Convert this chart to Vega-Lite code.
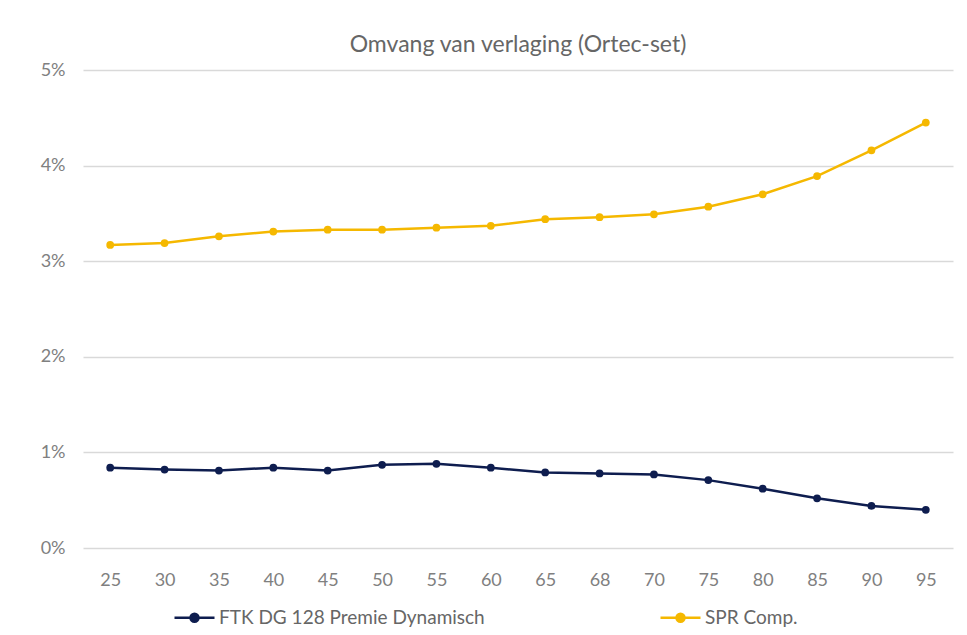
{
  "$schema": "https://vega.github.io/schema/vega-lite/v6.json",
  "width": 870,
  "height": 478,
  "autosize": {"type": "none"},
  "padding": {"left": 83, "top": 70, "right": 14, "bottom": 87},
  "background": "white",
  "title": {
    "text": "Omvang van verlaging (Ortec-set)",
    "font": "Lato",
    "fontSize": 23,
    "fontWeight": "normal",
    "color": "#666666",
    "offset": 4,
    "anchor": "middle"
  },
  "config": {
    "view": {"stroke": null},
    "font": "Lato"
  },
  "data": {
    "values": [
      {"age": 25, "series": "FTK DG 128 Premie Dynamisch", "value": 0.0084},
      {"age": 30, "series": "FTK DG 128 Premie Dynamisch", "value": 0.0082},
      {"age": 35, "series": "FTK DG 128 Premie Dynamisch", "value": 0.0081},
      {"age": 40, "series": "FTK DG 128 Premie Dynamisch", "value": 0.0084},
      {"age": 45, "series": "FTK DG 128 Premie Dynamisch", "value": 0.0081},
      {"age": 50, "series": "FTK DG 128 Premie Dynamisch", "value": 0.0087},
      {"age": 55, "series": "FTK DG 128 Premie Dynamisch", "value": 0.0088},
      {"age": 60, "series": "FTK DG 128 Premie Dynamisch", "value": 0.0084},
      {"age": 65, "series": "FTK DG 128 Premie Dynamisch", "value": 0.0079},
      {"age": 68, "series": "FTK DG 128 Premie Dynamisch", "value": 0.0078},
      {"age": 70, "series": "FTK DG 128 Premie Dynamisch", "value": 0.0077},
      {"age": 75, "series": "FTK DG 128 Premie Dynamisch", "value": 0.0071},
      {"age": 80, "series": "FTK DG 128 Premie Dynamisch", "value": 0.0062},
      {"age": 85, "series": "FTK DG 128 Premie Dynamisch", "value": 0.0052},
      {"age": 90, "series": "FTK DG 128 Premie Dynamisch", "value": 0.0044},
      {"age": 95, "series": "FTK DG 128 Premie Dynamisch", "value": 0.0040},
      {"age": 25, "series": "SPR Comp.", "value": 0.0317},
      {"age": 30, "series": "SPR Comp.", "value": 0.0319},
      {"age": 35, "series": "SPR Comp.", "value": 0.0326},
      {"age": 40, "series": "SPR Comp.", "value": 0.0331},
      {"age": 45, "series": "SPR Comp.", "value": 0.0333},
      {"age": 50, "series": "SPR Comp.", "value": 0.0333},
      {"age": 55, "series": "SPR Comp.", "value": 0.0335},
      {"age": 60, "series": "SPR Comp.", "value": 0.0337},
      {"age": 65, "series": "SPR Comp.", "value": 0.0344},
      {"age": 68, "series": "SPR Comp.", "value": 0.0346},
      {"age": 70, "series": "SPR Comp.", "value": 0.0349},
      {"age": 75, "series": "SPR Comp.", "value": 0.0357},
      {"age": 80, "series": "SPR Comp.", "value": 0.0370},
      {"age": 85, "series": "SPR Comp.", "value": 0.0389},
      {"age": 90, "series": "SPR Comp.", "value": 0.0416},
      {"age": 95, "series": "SPR Comp.", "value": 0.0445}
    ]
  },
  "encoding": {
    "x": {
      "field": "age",
      "type": "ordinal",
      "scale": {"paddingOuter": 0.5},
      "axis": {
        "title": null,
        "labelAngle": 0,
        "labelFont": "Lato",
        "labelFontSize": 18,
        "labelColor": "#808080",
        "labelPadding": 23,
        "ticks": false,
        "domain": false,
        "grid": false
      }
    },
    "y": {
      "field": "value",
      "type": "quantitative",
      "scale": {"domain": [0, 0.05], "nice": false},
      "axis": {
        "title": null,
        "format": ".0%",
        "values": [0, 0.01, 0.02, 0.03, 0.04, 0.05],
        "labelFont": "Lato",
        "labelFontSize": 18,
        "labelColor": "#808080",
        "labelPadding": 18,
        "ticks": false,
        "domain": false,
        "grid": true,
        "gridColor": "#d9d9d9",
        "gridWidth": 1.3
      }
    },
    "color": {
      "field": "series",
      "type": "nominal",
      "scale": {
        "domain": ["FTK DG 128 Premie Dynamisch", "SPR Comp."],
        "range": ["#0e1d4f", "#f5b800"]
      },
      "legend": {
        "title": null,
        "orient": "none",
        "direction": "horizontal",
        "legendX": 90,
        "legendY": 526,
        "columnPadding": 170,
        "labelFont": "Lato",
        "labelFontSize": 19,
        "labelColor": "#666666",
        "labelOffset": 3,
        "labelLimit": 0,
        "symbolType": "M-1,0H1M-0.2,0A0.2,0.2 0 1,0 0.2,0A0.2,0.2 0 1,0 -0.2,0",
        "symbolSize": 1600,
        "symbolStrokeWidth": 2.5,
        "encode": {
          "symbols": {
            "update": {
              "fill": {"scale": "color", "field": "value"},
              "stroke": {"scale": "color", "field": "value"}
            }
          }
        }
      }
    }
  },
  "layer": [
    {"mark": {"type": "line", "strokeWidth": 2.5}},
    {"mark": {"type": "point", "filled": true, "size": 60, "opacity": 1}}
  ]
}
